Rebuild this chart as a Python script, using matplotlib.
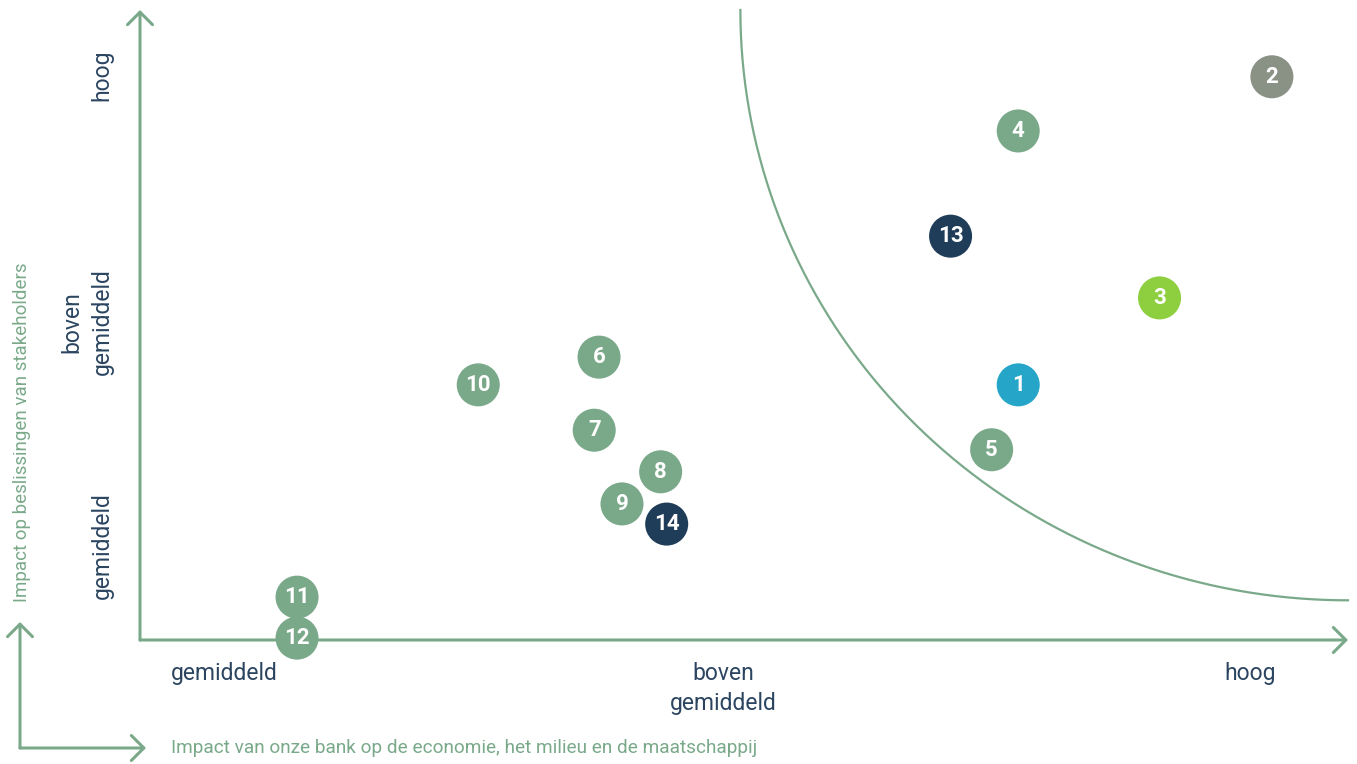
import numpy as np
import matplotlib
matplotlib.use("Agg")
import matplotlib.pyplot as plt

plt.rcParams['font.family'] = ['Roboto', 'DejaVu Sans']

# ---- data ----
labels = ["1", "2", "3", "4", "5", "6", "7", "8", "9", "10", "11", "12", "13", "14"]
impact_bank = [7.27, 9.37, 8.44, 7.27, 7.05, 3.80, 3.76, 4.31, 3.99, 2.80, 1.30, 1.30, 6.71, 4.36]
impact_stakeholders = [4.05, 8.94, 5.43, 8.08, 3.02, 4.49, 3.33, 2.67, 2.16, 4.05, 0.68, 0.03, 6.41, 1.84]
groups = ["blue", "grey", "lime", "green", "green", "green", "green", "green", "green",
          "green", "green", "green", "navy", "navy"]

xtick_pos = [0.70, 4.83, 9.19]
xtick_labels = ["gemiddeld", "boven\ngemiddeld", "hoog"]
ytick_pos = [1.5, 5.05, 8.97]
ytick_labels = ["gemiddeld", "boven\ngemiddeld", "hoog"]

xlabel = "Impact van onze bank op de economie, het milieu en de maatschappij"
ylabel = "Impact op beslissingen van stakeholders"

# threshold curve (quarter ellipse around top-right corner)
curve_center = (10.0, 10.0)
curve_rx, curve_ry = 5.03, 9.37

# ---- style ----
GREEN = "#7aa98a"
NAVY_TXT = "#2b4561"
palette = {"green": "#7aa98a", "grey": "#8a9286", "lime": "#8dcf3f",
           "blue": "#25a6c9", "navy": "#1f3d59"}

W, H = 1357, 764
fig = plt.figure(figsize=(W / 100, H / 100), dpi=100)
ax = fig.add_axes([140 / W, 124 / H, 1208 / W, 630 / H])
ax.set_xlim(0, 10)
ax.set_ylim(0, 10)
for s in ax.spines.values():
    s.set_visible(False)

arrow_kw = dict(arrowstyle='->,head_length=0.45,head_width=0.45', lw=2.2,
                color=GREEN, mutation_scale=20, shrinkA=0, shrinkB=0)
ax.annotate('', xy=(10, 0), xytext=(0, 0), arrowprops=arrow_kw, annotation_clip=False)
ax.annotate('', xy=(0, 10), xytext=(0, 0), arrowprops=arrow_kw, annotation_clip=False)

# curve
theta = np.linspace(0, np.pi / 2, 300)
cx = curve_center[0] - curve_rx * np.cos(theta)
cy = curve_center[1] - curve_ry * np.sin(theta)
ax.plot(cx, cy, color=GREEN, lw=1.6, clip_on=False, zorder=1)

# points
cols = [palette[g] for g in groups]
ax.scatter(impact_bank, impact_stakeholders, s=960, c=cols, linewidths=0,
           zorder=3, clip_on=False)
for lx, ly, lab in zip(impact_bank, impact_stakeholders, labels):
    ax.text(lx, ly, lab, ha='center', va='center', color='white', fontsize=16,
            fontweight='bold', zorder=4)

# ticks
ax.set_xticks(xtick_pos)
ax.set_xticklabels(xtick_labels)
ax.set_yticks(ytick_pos)
ax.set_yticklabels(ytick_labels, rotation=90, va='center', ha='right')
ax.tick_params(axis='x', length=0, pad=16, labelsize=16.5, labelcolor=NAVY_TXT)
ax.tick_params(axis='y', length=0, pad=19, labelsize=16.5, labelcolor=NAVY_TXT)
for t in ax.get_xticklabels() + ax.get_yticklabels():
    t.set_linespacing(1.4)
    t.set_multialignment('center')

# axis titles
fig.text(171 / W, 1 - 748 / H, xlabel, ha='left', va='center', color=GREEN, fontsize=13.7)
fig.text(22 / W, 1 - 432 / H, ylabel, ha='center', va='center', rotation=90,
         color=GREEN, fontsize=13.5)

# small legend L-arrow
small_kw = dict(arrowstyle='->,head_length=0.45,head_width=0.45', lw=2.2,
                color=GREEN, mutation_scale=20, shrinkA=0, shrinkB=0)
ax.annotate('', xy=(20, H - 622), xytext=(20, H - 748), xycoords='figure pixels',
            textcoords='figure pixels', arrowprops=small_kw, annotation_clip=False)
ax.annotate('', xy=(146, H - 748), xytext=(20, H - 748), xycoords='figure pixels',
            textcoords='figure pixels', arrowprops=small_kw, annotation_clip=False)

fig.savefig("out.png", dpi=100)
